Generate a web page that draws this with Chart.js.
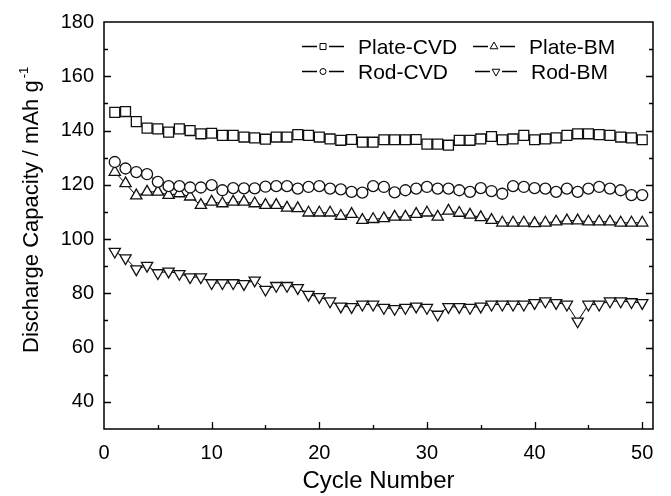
<!DOCTYPE html>
<html><head><meta charset="utf-8">
<script src="https://cdn.jsdelivr.net/npm/chart.js@4.4.1/dist/chart.umd.min.js"></script>
<style>html,body{margin:0;padding:0;background:#fff;} canvas{display:block;}</style>
</head><body>
<canvas id="c" width="671" height="496"></canvas>
<script>
const cycles = [1,2,3,4,5,6,7,8,9,10,11,12,13,14,15,16,17,18,19,20,21,22,23,24,25,26,27,28,29,30,31,32,33,34,35,36,37,38,39,40,41,42,43,44,45,46,47,48,49,50];
const plateCVD = [146.7,147,143.3,140.9,140.6,139.4,140.6,140,138.8,139,138.2,138.2,137.6,137.3,136.8,137.6,137.6,138.5,138.2,137.6,136.9,136.4,136.7,135.7,135.7,136.6,136.6,136.6,136.7,135,135,134.6,136.4,136.4,136.9,137.8,136.6,136.9,138.2,136.6,136.9,137.3,138.2,138.8,138.8,138.5,138.2,137.6,137.3,136.6];
const rodCVD = [128.4,126,124.7,123.9,121.1,119.5,119.5,119,119,119.9,118,118.8,118.7,118.7,119.3,119.5,119.5,118.6,119.2,119.5,118.6,118.3,117.4,117.1,119.5,119.2,117.2,118,118.6,119.2,118.6,118.6,118,117.4,118.8,117.7,116.7,119.5,119.2,118.8,118.6,117.4,118.6,117.4,118.6,119.2,118.6,118,116.2,116.2];
const plateBM = [124.7,120.5,116,117.4,117.4,116.2,116.8,115.6,112.5,113.7,113.1,113.7,113.7,113.1,112.5,112.5,111.5,111.3,109.7,109.7,109.7,108.5,109.2,107,107.3,107.6,108.2,108.2,109.2,109.7,108.2,110.4,109.6,108.9,108,107,106,106,106,105.8,106,106.4,106.8,106.8,106.4,106.4,106.4,106,106,106];
const rodBM = [95.4,93,88.9,90.2,87.5,88.1,87.2,86,86,83.8,83.8,83.8,83.5,84.8,81.4,82.8,82.8,82,79.5,78.7,77.1,75.2,75,75.9,75.9,74.7,74.3,74.7,75.2,74.7,72.2,75,75,74.7,75.2,75.9,75.9,75.9,75.9,76.5,77.1,76.5,75.9,69.7,75.9,75.9,77.1,77.1,76.8,76.5];
const seriesNames = ['Plate-CVD','Plate-BM','Rod-CVD','Rod-BM'];
const yTickLabels = [40,60,80,100,120,140,160,180];
const xTickLabels = [0,10,20,30,40,50];

const FONT = "'Liberation Sans', Arial, sans-serif";
function pts(arr){ return arr.map((v,i)=>({x:cycles[i], y:v})); }

function ds(label, data, style, radius, rot){
  return {label, data: pts(data), borderColor:'#000', borderWidth:1, showLine:true,
    pointStyle:style, pointRadius:radius, pointHoverRadius:radius, pointRotation:rot||0,
    pointBackgroundColor:'#fff', pointBorderColor:'#111', pointBorderWidth:1.3, tension:0};
}

function marker(ctx, style, x, y, r){
  ctx.beginPath();
  if(style==='rect'){ ctx.rect(x-r,y-r,2*r,2*r); }
  else if(style==='circle'){ ctx.arc(x,y,r,0,Math.PI*2); }
  else if(style==='tri'){ ctx.moveTo(x,y-r); ctx.lineTo(x+r*0.866,y+r*0.5); ctx.lineTo(x-r*0.866,y+r*0.5); ctx.closePath(); }
  else if(style==='itri'){ ctx.moveTo(x,y+r); ctx.lineTo(x+r*0.866,y-r*0.5); ctx.lineTo(x-r*0.866,y-r*0.5); ctx.closePath(); }
  ctx.fillStyle='#fff'; ctx.fill(); ctx.strokeStyle='#000'; ctx.lineWidth=1; ctx.stroke();
}

const framePlugin = {
  id:'frame',
  afterDraw(chart){
    const ctx = chart.ctx, a = chart.chartArea, xs = chart.scales.x, ys = chart.scales.y;
    ctx.save();
    ctx.strokeStyle='#000'; ctx.lineWidth=1.5;
    ctx.strokeRect(a.left, a.top, a.right-a.left, a.bottom-a.top);
    ctx.lineWidth=1.3;
    ctx.beginPath();
    for(let v=40; v<=170; v+=10){
      const y = Math.round(ys.getPixelForValue(v))+0.5;
      const L = (v%20===0)?7:4;
      ctx.moveTo(a.left,y); ctx.lineTo(a.left+L,y);
      ctx.moveTo(a.right,y); ctx.lineTo(a.right-L,y);
    }
    for(let v=5; v<=50; v+=5){
      const x = Math.round(xs.getPixelForValue(v))+0.5;
      const L = (v%10===0)?7:4;
      ctx.moveTo(x,a.bottom); ctx.lineTo(x,a.bottom-L);
    }
    ctx.stroke();
    // y-axis title with superscript
    ctx.fillStyle='#000';
    ctx.translate(38, 353);
    ctx.rotate(-Math.PI/2);
    ctx.textAlign='left'; ctx.textBaseline='alphabetic';
    ctx.font = '22px '+FONT;
    const main = 'Discharge Capacity / mAh g';
    ctx.fillText(main, 0, 0);
    const w = ctx.measureText(main).width;
    ctx.font = '13px '+FONT;
    ctx.fillText('-1', w+2, -10);
    ctx.restore();

    // legend
    ctx.save();
    const entries = [
      {x:302, y:46, s:'rect', r:3, t:seriesNames[0]},
      {x:473, y:46, s:'tri', r:4.5, t:seriesNames[1]},
      {x:302, y:71, s:'circle', r:3, t:seriesNames[2]},
      {x:475, y:71, s:'itri', r:4.5, t:seriesNames[3]}
    ];
    ctx.font = '21px '+FONT; ctx.textBaseline='alphabetic'; ctx.textAlign='left';
    for(const e of entries){
      ctx.strokeStyle='#000'; ctx.lineWidth=1.5;
      ctx.beginPath(); ctx.moveTo(e.x, e.y+0.5); ctx.lineTo(e.x+15, e.y+0.5);
      ctx.moveTo(e.x+27, e.y+0.5); ctx.lineTo(e.x+42, e.y+0.5); ctx.stroke();
      marker(ctx, e.s, e.x+21, e.y+0.5, e.r);
      ctx.fillStyle='#000';
      ctx.fillText(e.t, e.x+56, e.y+7.5);
    }
    ctx.restore();
  }
};

new Chart(document.getElementById('c'), {
  type:'scatter',
  data:{ datasets:[
    ds(seriesNames[0], plateCVD, 'rect', 7),
    ds(seriesNames[2], rodCVD, 'circle', 5.5),
    ds(seriesNames[1], plateBM, 'triangle', 6.5),
    ds(seriesNames[3], rodBM, 'triangle', 6.5, 180)
  ]},
  options:{
    responsive:false, animation:false, devicePixelRatio:1,
    layout:{padding:{left:0,right:18,top:21,bottom:0}},
    plugins:{legend:{display:false}, tooltip:{enabled:false}},
    scales:{
      x:{type:'linear', min:0, max:51,
        afterFit(s){ s.height = 67; },
        afterBuildTicks(s){ s.ticks = xTickLabels.map(v=>({value:v})); },
        grid:{display:false, drawTicks:false},
        border:{display:false},
        ticks:{padding:12, color:'#000', font:{family:FONT, size:20}, maxRotation:0, autoSkip:false},
        title:{display:true, text:'Cycle Number', color:'#000', font:{family:FONT, size:24}, padding:{top:0,bottom:0}}
      },
      y:{type:'linear', min:30, max:180,
        afterFit(s){ s.width = 104; },
        afterBuildTicks(s){ s.ticks = yTickLabels.map(v=>({value:v})); },
        grid:{display:false, drawTicks:false},
        border:{display:false},
        ticks:{padding:10, color:'#000', font:{family:FONT, size:20}, autoSkip:false}
      }
    }
  },
  plugins:[framePlugin]
});
</script>
</body></html>
